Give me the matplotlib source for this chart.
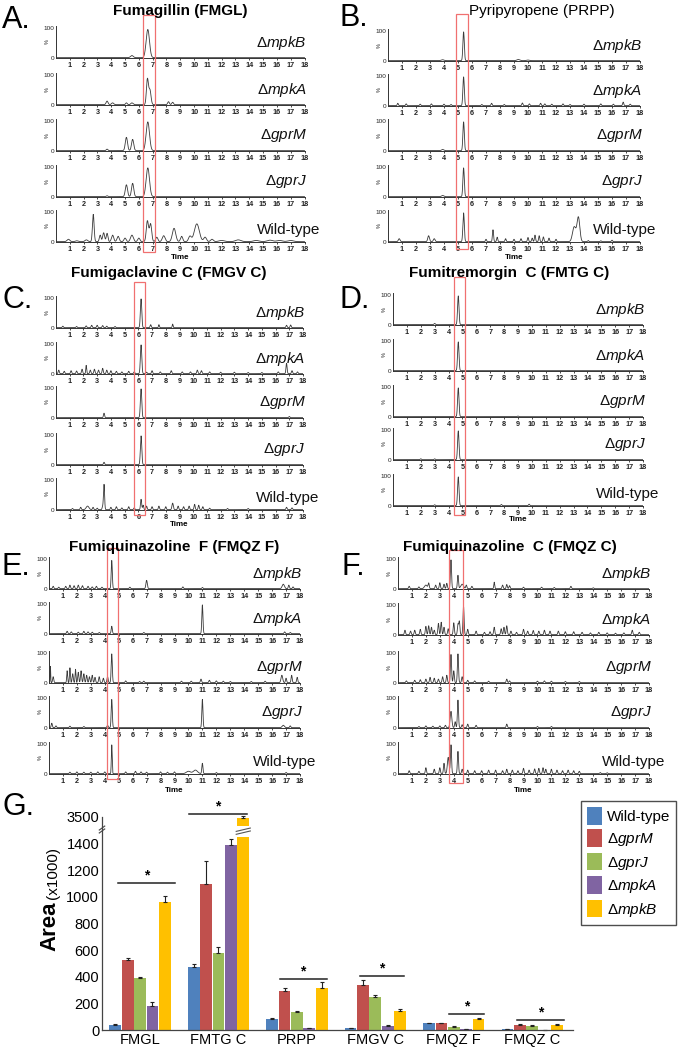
import numpy as np
import matplotlib.pyplot as plt
from matplotlib.patches import Rectangle, Patch
from matplotlib.transforms import blended_transform_factory

plt.rcParams['font.family'] = ['Liberation Sans', 'DejaVu Sans']
plt.rcParams['mathtext.fontset'] = 'custom'
plt.rcParams['mathtext.rm'] = 'Liberation Sans'
plt.rcParams['mathtext.it'] = 'Liberation Sans:italic'
plt.rcParams['mathtext.bf'] = 'Liberation Sans:bold'

W, H = 684, 1049

###############################################################################
# Chromatogram peaks: (retention time, height %, width)

strains = ['mpkB', 'mpkA', 'gprM', 'gprJ', 'Wild-type']

fmgl_peaks = [
    [(6.65, 95, 0.12), (5.5, 7, 0.1)],
    [(6.62, 85, 0.07), (6.8, 50, 0.08), (3.7, 12, 0.07), (4.1, 6, 0.08),
     (5.1, 6, 0.06), (5.5, 6, 0.08), (8.15, 10, 0.06), (8.45, 8, 0.06)],
    [(6.65, 97, 0.12), (5.1, 45, 0.08), (5.55, 38, 0.08), (3.7, 5, 0.06)],
    [(6.65, 97, 0.12), (5.1, 40, 0.08), (5.55, 45, 0.08), (3.7, 3, 0.06)],
    [(0.9, 8, 0.1), (1.5, 3, 0.1), (2.2, 6, 0.1), (2.7, 92, 0.06),
     (3.2, 22, 0.06), (3.45, 30, 0.07), (3.7, 28, 0.06), (4.1, 22, 0.08),
     (4.5, 18, 0.08), (5.0, 12, 0.08), (5.5, 22, 0.1), (6.0, 12, 0.08),
     (6.62, 70, 0.08), (6.85, 60, 0.08), (7.3, 15, 0.08), (7.8, 20, 0.1),
     (8.55, 45, 0.12), (9.1, 18, 0.08), (9.7, 18, 0.1), (10.2, 60, 0.18),
     (10.8, 15, 0.1), (11.3, 8, 0.1), (12.0, 4, 0.2), (13.2, 6, 0.2),
     (14.5, 4, 0.2), (15.5, 5, 0.2), (16.2, 4, 0.2), (17.0, 4, 0.2)],
]

prpp_peaks = [
    [(5.4, 97, 0.05), (3.9, 3, 0.1), (9.3, 4, 0.1), (10.0, 2, 0.1)],
    [(5.4, 97, 0.05), (0.7, 8), (1.3, 6), (2.3, 5), (3.1, 6), (4.0, 5),
     (4.5, 4), (6.7, 4), (7.4, 8), (8.3, 4), (9.6, 9), (10.1, 6), (10.9, 8),
     (11.2, 6), (11.7, 5), (12.5, 6), (13.0, 4), (14.0, 5), (15.2, 6),
     (16.1, 5), (16.8, 12), (17.3, 5)],
    [(5.4, 97, 0.05), (3.9, 4, 0.08)],
    [(5.4, 97, 0.05), (3.9, 4, 0.08)],
    [(5.4, 97, 0.05), (0.8, 10, 0.06), (2.9, 20, 0.06), (3.3, 10, 0.06),
     (7.0, 8), (7.5, 40, 0.04), (7.8, 15), (8.4, 10), (9.0, 8), (9.5, 10),
     (10.0, 14), (10.3, 12), (10.5, 22), (10.8, 20), (11.1, 16), (11.5, 12),
     (12.0, 8), (13.3, 50, 0.12), (13.6, 82, 0.1), (14.3, 4), (15.2, 3),
     (16.0, 5)],
]

fmgv_peaks = [
    [(6.2, 97, 0.05), (0.5, 5), (1.5, 4), (2.2, 6), (2.6, 8), (3.0, 8),
     (3.4, 7), (3.7, 5), (4.3, 4), (6.9, 10, 0.04), (7.5, 10, 0.03),
     (8.5, 12, 0.03), (16.8, 8), (17.1, 9)],
    [(6.2, 97, 0.05), (0.2, 12), (0.6, 8), (1.1, 10), (1.5, 9), (1.9, 15),
     (2.2, 28, 0.03), (2.5, 12), (2.8, 15), (3.1, 12), (3.4, 18), (3.7, 12),
     (4.0, 10), (4.4, 8), (4.8, 6), (5.3, 8), (5.7, 6), (6.6, 5), (7.0, 10),
     (7.6, 6), (8.4, 10), (9.2, 6), (9.8, 6), (10.3, 12), (10.6, 10),
     (11.2, 6), (12.0, 5), (13.0, 5), (14.0, 4), (15.0, 4), (16.2, 6),
     (16.8, 35, 0.04), (17.2, 10), (17.6, 6)],
    [(6.2, 97, 0.05), (3.5, 15, 0.04), (17.0, 4)],
    [(6.2, 97, 0.05), (3.5, 8, 0.04)],
    [(6.2, 35, 0.04), (6.35, 15), (6.6, 12), (3.5, 85, 0.04), (3.4, 10),
     (1.2, 4), (1.8, 8), (2.3, 12, 0.1), (2.7, 8), (3.0, 5), (4.0, 8),
     (4.4, 10), (4.8, 6), (5.3, 10), (5.7, 6), (7.0, 10), (7.5, 12),
     (8.0, 10), (8.5, 22, 0.05), (8.9, 12), (9.3, 10), (9.7, 12), (10.1, 18),
     (10.4, 15), (10.7, 10), (11.2, 5), (12.5, 4), (14.0, 4), (16.8, 8),
     (17.2, 6)],
]

fmtg_peaks = [
    [(4.7, 97, 0.05), (3.0, 4, 0.05)],
    [(4.7, 97, 0.05)],
    [(4.7, 97, 0.05), (9.0, 2)],
    [(4.7, 97, 0.05), (2.0, 3), (3.0, 3)],
    [(4.7, 97, 0.05), (3.0, 3), (7.8, 4), (9.8, 5)],
]

fmqzf_peaks = [
    [(4.5, 95, 0.04), (7.0, 28, 0.05), (0.3, 8), (0.7, 5), (1.2, 8),
     (1.5, 12), (1.8, 10), (2.1, 12), (2.4, 10), (2.8, 8), (3.1, 6),
     (3.4, 8), (3.8, 5), (5.8, 5), (9.6, 6), (11.0, 4), (16.8, 15, 0.08),
     (17.2, 12), (17.5, 6)],
    [(11.0, 97, 0.04), (4.5, 25, 0.04), (1.3, 8), (1.6, 6), (2.1, 5),
     (2.5, 8), (2.8, 6), (3.1, 5), (3.6, 4), (6.8, 4), (16.9, 6), (17.3, 4)],
    [(4.5, 97, 0.04), (0.1, 55, 0.02), (0.3, 20), (1.3, 40, 0.03),
     (1.5, 50, 0.03), (1.7, 30), (1.9, 45, 0.03), (2.1, 35), (2.3, 40),
     (2.5, 30), (2.7, 25), (2.9, 20), (3.1, 25), (3.3, 18), (3.6, 20),
     (3.9, 15), (4.2, 20), (5.5, 6), (6.5, 4), (6.8, 5), (9.5, 5), (10.2, 5),
     (10.9, 12), (11.5, 8), (12.0, 6), (12.5, 5), (13.0, 4), (14.5, 4),
     (15.5, 5), (16.7, 25, 0.06), (17.0, 15), (17.4, 25, 0.04), (17.8, 18)],
    [(4.5, 95, 0.04), (11.0, 95, 0.04), (0.2, 15), (0.5, 6), (1.5, 5),
     (2.5, 4), (4.2, 8), (16.8, 8, 0.08), (17.3, 6)],
    [(4.5, 97, 0.03), (11.0, 35, 0.04), (1.5, 5), (2.0, 6), (2.5, 5),
     (3.0, 5), (3.5, 6), (4.0, 6), (5.5, 6), (6.2, 8), (6.6, 6), (7.0, 5),
     (8.0, 6), (8.5, 5), (9.0, 6), (10.0, 8, 0.15), (10.5, 12, 0.15),
     (12.0, 4), (17.0, 4)],
]

fmqzc_peaks = [
    [(3.8, 97, 0.04), (4.3, 45, 0.04), (4.6, 15, 0.1), (0.8, 8), (1.5, 6),
     (2.0, 12, 0.1), (2.2, 18), (2.7, 12), (3.0, 20), (3.3, 15), (3.5, 18),
     (4.9, 12), (5.3, 8), (6.9, 22, 0.03), (7.5, 12), (7.8, 14), (8.0, 10),
     (9.0, 5), (10.3, 5), (11.2, 4), (12.4, 8), (14.0, 3)],
    [(4.7, 95, 0.04), (4.0, 40), (4.3, 35), (4.4, 45), (0.5, 15), (0.9, 12),
     (1.2, 15), (1.6, 18), (2.0, 28), (2.2, 30), (2.4, 25), (2.6, 15),
     (2.9, 38), (3.1, 42), (3.3, 25), (3.6, 20), (5.0, 18), (5.6, 12),
     (6.2, 8), (6.6, 10), (6.9, 25), (7.4, 20), (7.6, 25), (7.8, 30),
     (8.1, 12), (8.5, 8), (9.0, 18), (9.3, 12), (9.7, 14), (10.1, 12),
     (10.5, 15), (10.9, 12), (11.5, 12), (12.0, 10), (12.6, 10), (13.2, 8),
     (13.8, 6), (14.4, 8), (15.0, 6), (15.6, 5), (16.2, 6), (16.8, 15),
     (17.3, 8)],
    [(3.8, 95, 0.04), (4.3, 97, 0.04), (4.0, 40), (4.6, 20), (0.6, 6),
     (1.2, 8), (1.6, 10), (2.0, 12), (2.3, 18), (2.6, 15), (2.9, 12),
     (3.2, 20), (3.5, 25), (5.0, 8), (5.5, 6), (6.5, 5), (7.8, 12), (8.0, 6),
     (10.0, 5), (10.5, 6), (11.0, 5), (12.0, 4), (13.0, 4)],
    [(3.8, 55, 0.06), (4.3, 93, 0.04), (4.1, 20), (4.6, 10), (5.0, 12),
     (5.6, 8), (1.5, 4), (2.0, 6), (2.5, 5), (3.0, 6), (3.4, 8), (7.8, 12),
     (10.0, 4), (11.0, 4)],
    [(3.8, 97, 0.04), (3.6, 55, 0.06), (4.3, 75, 0.04), (3.3, 35), (3.0, 20),
     (2.6, 15), (2.0, 20), (1.5, 8), (0.8, 10), (4.6, 15), (5.0, 12),
     (5.5, 10), (6.0, 10), (6.5, 12), (7.0, 12), (7.5, 10), (7.8, 15),
     (8.2, 12), (8.6, 10), (9.0, 18), (9.4, 12), (9.8, 16), (10.1, 18),
     (10.4, 20), (10.6, 15), (11.0, 15), (11.4, 12), (11.8, 10), (12.2, 12),
     (12.6, 10), (13.0, 8), (14.5, 4), (15.0, 3)],
]

###############################################################################
# Bar chart values, Area (x1000)

compounds = ['FMGL', 'FMTG C', 'PRPP', 'FMGV C', 'FMQZ F', 'FMQZ C']
bar_labels = ['Wild-type', r'Δ$\it{gprM}$', r'Δ$\it{gprJ}$',
              r'Δ$\it{mpkA}$', r'Δ$\it{mpkB}$']
area_wt = [38, 472, 83, 12, 50, 8]
area_gprM = [528, 1100, 294, 339, 50, 38]
area_gprJ = [390, 578, 138, 251, 25, 30]
area_mpkA = [181, 1387, 12, 30, 5, 2]
area_mpkB = [960, 3490, 317, 146, 83, 40]
err_wt = [8, 25, 8, 3, 5, 2]
err_gprM = [10, 170, 20, 38, 3, 5]
err_gprJ = [10, 45, 8, 12, 5, 5]
err_mpkA = [30, 50, 3, 5, 2, 1]
err_mpkB = [50, 20, 47, 8, 8, 8]
sig_level = [1105, 3525, 384, 402, 120, 75]
bar_colors = ['#4F81BD', '#C0504D', '#9BBB59', '#8064A2', '#FFC000']

###############################################################################

t = np.linspace(0, 18, 1801)


def trace(peaks):
    y = np.full_like(t, 1.2)
    for p in peaks:
        rt, h = p[0], p[1]
        w = p[2] if len(p) > 2 else 0.04
        y += h * np.exp(-0.5 * ((t - rt) / w) ** 2)
    return np.minimum(y, 100)


fig = plt.figure(figsize=(W / 100, H / 100), dpi=100)


def px_axes(x0, x1, ybot, h):
    return fig.add_axes([x0 / W, 1 - ybot / H, (x1 - x0) / W, h / H])


def panel(peaks, x0, x1, bases, box, box_y, title, title_x, title_y,
          letter, letter_x, letter_y, time_y, weight='bold'):
    axes = []
    for pk, base, name in zip(peaks, bases, strains):
        ax = px_axes(x0, x1, base, 32)
        ax.plot(t, trace(pk), color='#3a3a3a', lw=0.6)
        ax.set_xlim(0, 18)
        ax.set_ylim(0, 108)
        for s in ['top', 'right']:
            ax.spines[s].set_visible(False)
        for s in ['left', 'bottom']:
            ax.spines[s].set_linewidth(0.7)
            ax.spines[s].set_color('#333333')
        ax.set_xticks(range(1, 19))
        ax.set_xticklabels([str(i) for i in range(1, 19)], fontsize=5.2,
                           fontweight='bold', color='#222222')
        ax.set_yticks([0, 100])
        ax.set_yticklabels(['0', '100'], fontsize=4.6, color='#222222')
        ax.tick_params(axis='x', length=1.5, width=0.5, pad=1.5)
        ax.tick_params(axis='y', length=0, pad=1)
        ax.text(-0.035, 0.5, '%', transform=ax.transAxes, fontsize=4,
                rotation=90, ha='center', va='center', color='#222222')
        if name == 'Wild-type':
            ax.text(1.065, 0.36, name, transform=ax.transAxes, fontsize=11,
                    ha='right', va='center', color='#111111')
        else:
            ax.text(1.01, 0.47, r'Δ$\it{' + name + '}$', transform=ax.transAxes,
                    fontsize=11, ha='right', va='center', color='#111111')
        axes.append(ax)
    fig.text(title_x / W, 1 - title_y / H, title, fontsize=11,
             fontweight=weight, ha='center', va='center')
    fig.text(letter_x / W, 1 - letter_y / H, letter, fontsize=22,
             ha='left', va='center')
    fig.text((x0 + x1) / 2 / W, 1 - time_y / H, 'Time', fontsize=5.8,
             fontweight='bold', ha='center', va='center')
    tr = blended_transform_factory(axes[0].transData, fig.transFigure)
    rect = Rectangle((box[0], 1 - box_y[1] / H), box[1] - box[0],
                     (box_y[1] - box_y[0]) / H, transform=tr, fill=False,
                     edgecolor='#F07070', lw=0.9, clip_on=False)
    fig.add_artist(rect)


panel(fmgl_peaks, 56, 304.5, [58, 105, 151, 197, 242], (6.3, 7.17), (15, 252),
      'Fumagillin (FMGL)', 180, 11, 'A.', 2, 20, 257)
panel(prpp_peaks, 388, 640, [61, 106, 151, 197, 242], (4.86, 5.71), (14, 249),
      'Pyripyropene (PRPP)', 542, 11, 'B.', 340, 18, 257, weight='normal')
panel(fmgv_peaks, 56, 303, [328, 374, 418, 465, 510], (5.65, 6.52), (282, 515),
      'Fumigaclavine C (FMGV C)', 169, 273, 'C.', 2, 300, 524)
panel(fmtg_peaks, 393, 643, [325, 371, 417, 460, 506], (4.4, 5.2), (277, 515),
      'Fumitremorgin  C (FMTG C)', 509, 273, 'D.', 340, 300, 520)
panel(fmqzf_peaks, 49, 300, [589, 634, 683, 728, 774], (4.16, 4.95), (548, 779),
      'Fumiquinazoline  F (FMQZ F)', 174, 547, 'E.', 2, 567, 790)
panel(fmqzc_peaks, 398, 649, [589, 635, 683, 728, 774], (3.66, 4.66), (550, 783),
      'Fumiquinazoline  C (FMQZ C)', 510, 547, 'F.', 341, 567, 790)

###############################################################################
# G. bar chart with a broken y axis above 1450

brk_lo, brk_hi = 1450, 3435
shift = 1900


def disp(v):
    return v if v <= brk_lo else v - shift


axg = px_axes(102, 573, 1030, 213)
series = [area_wt, area_gprM, area_gprJ, area_mpkA, area_mpkB]
errors = [err_wt, err_gprM, err_gprJ, err_mpkA, err_mpkB]
xg = np.arange(len(compounds))
bw = 0.15
for k, (vals, errs, col) in enumerate(zip(series, errors, bar_colors)):
    xs = xg + (k - 2) * 0.158
    for x, v, e in zip(xs, vals, errs):
        if v > brk_lo:
            axg.bar(x, brk_lo, width=bw, color=col)
            axg.bar(x, disp(v) - disp(brk_hi), bottom=disp(brk_hi), width=bw,
                    color=col)
            for dy in (0, 22):
                axg.plot([x - bw * 0.6, x + bw * 0.6],
                         [brk_lo + 20 + dy, brk_lo + 45 + dy],
                         color='#555555', lw=0.8, clip_on=False)
        else:
            axg.bar(x, v, width=bw, color=col)
        axg.errorbar(x, disp(v), yerr=[[0], [e]], fmt='none', ecolor='#222222',
                     elinewidth=0.8, capsize=1.5, capthick=0.8, clip_on=False)

sig_span = [(-0.28, 0.45), (-0.37, 0.36), (-0.22, 0.38), (-0.2, 0.37),
            (-0.06, 0.38), (-0.19, 0.40)]
for x, lvl, (a, b) in zip(xg, sig_level, sig_span):
    y = disp(lvl)
    axg.plot([x + a, x + b], [y, y], color='#222222', lw=1.1, clip_on=False)
    axg.text(x + (a + b) / 2, y + 5, '*', fontsize=10, fontweight='bold',
             ha='center', va='bottom')

axg.set_xlim(-0.485, 5.52)
axg.set_ylim(0, 1600)
axg.set_yticks(list(range(0, 1401, 200)) + [1600])
axg.set_yticklabels([str(v) for v in range(0, 1401, 200)] + ['3500'],
                    fontsize=10.5)
axg.set_xticks(xg)
axg.set_xticklabels(compounds, fontsize=10.5)
axg.tick_params(length=0, pad=2)
for s in ['top', 'right']:
    axg.spines[s].set_visible(False)
for s in ['left', 'bottom']:
    axg.spines[s].set_color('#444444')
    axg.spines[s].set_linewidth(0.9)
for dy in (0, 22):
    axg.plot([-0.52, -0.45], [1480 + dy, 1510 + dy], color='#444444', lw=0.8,
             clip_on=False)

fig.text(50 / W, 1 - 926 / H, 'Area', fontsize=16, fontweight='bold',
         rotation=90, ha='center', va='center')
fig.text(53 / W, 1 - 873 / H, '(x1000)', fontsize=11, rotation=90,
         ha='center', va='center')
fig.text(2 / W, 1 - 807 / H, 'G.', fontsize=22, ha='left', va='center')

handles = [Patch(facecolor=c) for c in bar_colors]
leg = fig.legend(handles, bar_labels, loc='upper left',
                 bbox_to_anchor=(581 / W, 1 - 801 / H), fontsize=11,
                 frameon=True, fancybox=False, edgecolor='#222222',
                 handlelength=1.0, handleheight=1.4, handletextpad=0.3,
                 labelspacing=0.3, borderpad=0.4, borderaxespad=0)
leg.get_frame().set_linewidth(1.0)

fig.savefig('out.png', dpi=100)
